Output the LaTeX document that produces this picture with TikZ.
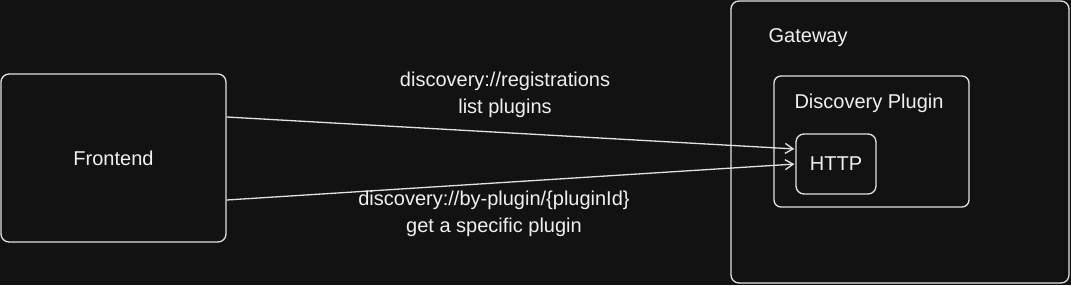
\documentclass[tikz,border=0pt]{standalone}
\usepackage{fontspec}
\setmainfont{Liberation Sans}
\usetikzlibrary{arrows.meta}
\definecolor{bgdark}{HTML}{121212}
\definecolor{edge}{HTML}{E2E2E2}
\definecolor{ink}{HTML}{F0F0F0}

\begin{document}
\begin{tikzpicture}[x=1bp,y=-1bp,line width=1.3bp,>={Straight Barb[length=8bp,width=10bp]},
  box/.style={draw=edge,fill=bgdark,rounded corners=8bp,inner sep=0pt,text=ink,font=\fontsize{20bp}{27bp}\selectfont},
  lbl/.style={text=ink,font=\fontsize{20bp}{27bp}\selectfont,inner sep=0pt,align=center}]
  % fond
  \useasboundingbox (0,0) rectangle (1071,285);
  \fill[bgdark] (0,0) rectangle (1071,285);
  % frontend
  \node[box,minimum width=225bp,minimum height=168bp] (front) at (113.5,158){Frontend};
  % gateway avec le plugin
  \node[box,minimum width=338bp,minimum height=282bp] (gw) at (900,142){};
  \node[lbl,anchor=west] (gwlbl) at (768,37.5){Gateway};
  \node[box,rounded corners=7bp,minimum width=195bp,minimum height=131bp] (plugin) at (871.5,141.5){};
  \node[lbl] (pluginlbl) at (869,103.5){Discovery Plugin};
  \node[box,minimum width=80bp,minimum height=60bp] (http) at (836,164){HTTP};
  % requetes
  \draw[->,edge,shorten >=1bp] ([yshift=41bp]front.east)--([yshift=15bp]http.west);
  \node[lbl] (reglbl) at (505,94.5){discovery://registrations\\list plugins};
  \draw[->,edge,shorten >=1bp] ([yshift=-42bp]front.east)--(http.west);
  \node[lbl] (bylbl) at (494,214){discovery://by-plugin/\{pluginId\}\\get a specific plugin};
\end{tikzpicture}
\end{document}
